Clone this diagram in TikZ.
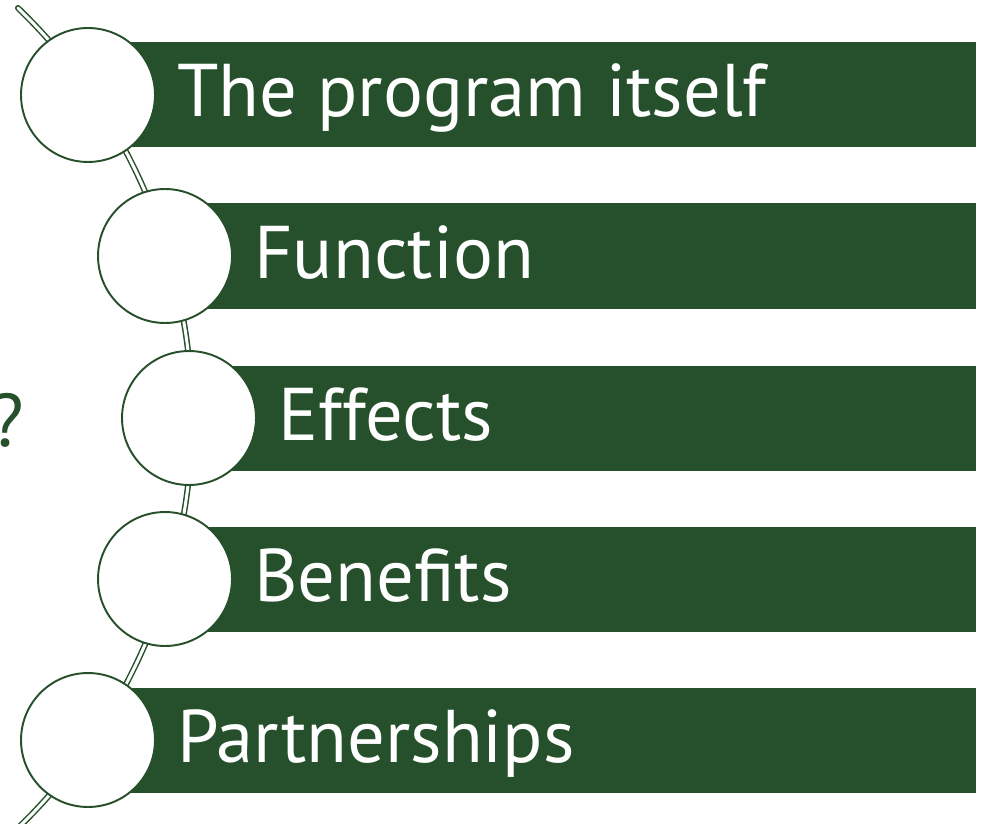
\documentclass[tikz,border=0pt]{standalone}
\usepackage{fontspec}
\setmainfont{PT Sans}
\definecolor{listgreen}{RGB}{38,79,44}
\begin{document}
\begin{tikzpicture}[x=0.02cm,y=-0.02cm,line join=round,line cap=round]

		\tikzset{bar/.style={fill=listgreen},
			ring/.style={circle,draw=listgreen,line width=1.1pt,fill=white,minimum size=2.68cm,inner sep=0pt},
			itemtext/.style={anchor=base west,text=white,inner sep=0pt,font=\fontsize{42.5}{42.5}\selectfont},
			spine/.style={draw=listgreen,line width=0.85pt,double=white,double distance=1.7pt}}

		\useasboundingbox (0,0) rectangle (987,824);
		\node[anchor=base east,inner sep=0pt,text=listgreen,font=\fontsize{42.5}{42.5}\selectfont] (q) at (24,446) {?};
		\foreach \i/\cx/\cy/\txt in {1/88/95/The program itself, 2/165/256/Function, 3/189/418/Effects, 4/165/579/Benefits, 5/88/740/Partnerships}
		{
		\fill[bar] (\cx,\cy-52.5) rectangle (976,\cy+52.5);
		\node[itemtext] (t\i) at (\cx+89,\cy+22) {\txt};
		}
		\draw[spine] (-378,418) ++(-46:570) arc[start angle=-46,end angle=46,radius=570];
		\foreach \i/\cx/\cy in {1/88/95, 2/165/256, 3/189/418, 4/165/579, 5/88/740}
		\node[ring] (c\i) at (\cx,\cy) {};
		\end{tikzpicture}
\end{document}
